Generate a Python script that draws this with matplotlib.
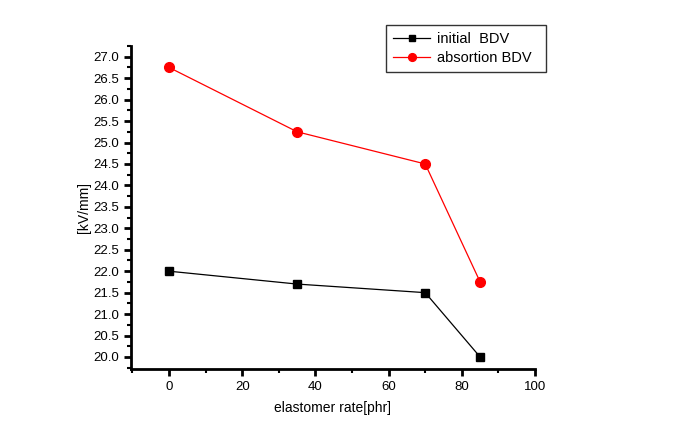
import matplotlib
matplotlib.use("Agg")
import matplotlib.pyplot as plt
from matplotlib.ticker import MultipleLocator, FormatStrFormatter

plt.rcParams['font.family'] = ['Liberation Sans', 'DejaVu Sans']

x_vals = [0, 35, 70, 85]
initial_bdv = [22.0, 21.7, 21.5, 20.0]
absorption_bdv = [26.75, 25.25, 24.5, 21.75]

fig = plt.figure(figsize=(6.83, 4.25), dpi=100)
ax = fig.add_axes([131/683, 1-369/425, (535-131)/683, (369-46)/425])

l1, = ax.plot(x_vals, initial_bdv, color='black', lw=0.9, marker='s', ms=6, label='initial  BDV')
l2, = ax.plot(x_vals, absorption_bdv, color='red', lw=0.9, marker='o', ms=7, label='absortion BDV')

ax.set_xlim(-10.4, 100)
ax.set_ylim(19.72, 27.25)
ax.xaxis.set_major_locator(MultipleLocator(20))
ax.xaxis.set_minor_locator(MultipleLocator(10))
ax.yaxis.set_major_locator(MultipleLocator(0.5))
ax.yaxis.set_minor_locator(MultipleLocator(0.25))
ax.yaxis.set_major_formatter(FormatStrFormatter('%.1f'))

for s in ['top', 'right']:
    ax.spines[s].set_visible(False)
for s in ['left', 'bottom']:
    ax.spines[s].set_linewidth(2)

ax.tick_params(which='major', direction='out', length=5, width=2, labelsize=9.5)
ax.tick_params(which='minor', direction='out', length=3, width=1.5)

ax.set_xlabel('elastomer rate[phr]', fontsize=10, labelpad=6)
ax.set_ylabel('[kV/mm]', fontsize=10)
ax.yaxis.set_label_coords((91 - 131) / 404, 0.5)

leg = fig.legend(handles=[l1, l2], loc='upper left',
                 bbox_to_anchor=(386/683, 1-25/425, (546-386)/683, 0),
                 mode='expand', frameon=True, fancybox=False, fontsize=10.5,
                 handlelength=2.5, borderpad=0.5, labelspacing=0.3, handletextpad=0.5,
                 borderaxespad=0, markerscale=0.8)
leg.get_frame().set_edgecolor('black')
leg.get_frame().set_linewidth(1)

fig.savefig('out.png', dpi=100)
